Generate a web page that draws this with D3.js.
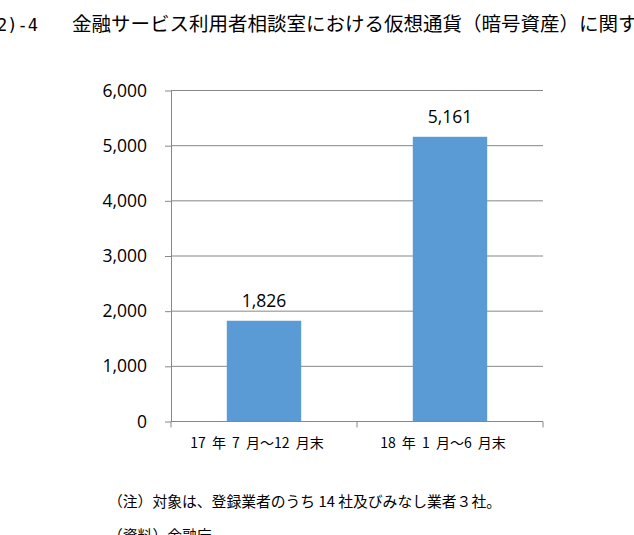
<!DOCTYPE html>
<html>
<head>
<meta charset="utf-8">
<script src="https://cdn.jsdelivr.net/npm/d3@7"></script>
<style>
  body { margin: 0; background: #fff; }
  svg { display: block; }
</style>
</head>
<body>
<div id="wrapper"></div>
<script>
// data
const categories = ["17 年 7 月～12 月末", "18 年 1 月～6 月末"]
const consultations = [1826, 5161]
const yTicks = [0, 1000, 2000, 3000, 4000, 5000, 6000]

const titlePrefix = "(2)-4"
const titleText = "金融サービス利用者相談室における仮想通貨（暗号資産）に関する相談件数"
const noteText = "（注）対象は、登録業者のうち 14 社及びみなし業者３社。"
const sourceText = "（資料）金融庁"

function drawChart() {
  // dimensions
  let dimensions = {
    width: 634,
    height: 535,
    margin: { top: 90.5, right: 91, bottom: 113.5, left: 171 },
  }
  dimensions.boundedWidth = dimensions.width - dimensions.margin.left - dimensions.margin.right
  dimensions.boundedHeight = dimensions.height - dimensions.margin.top - dimensions.margin.bottom

  const svg = d3.select("#wrapper")
    .append("svg")
      .attr("width", dimensions.width)
      .attr("height", dimensions.height)

  const bounds = svg.append("g")
      .attr("transform", `translate(${dimensions.margin.left}, ${dimensions.margin.top})`)

  // scales
  const xScale = d3.scaleBand()
    .domain(categories)
    .range([0, dimensions.boundedWidth])
    .paddingInner(0.6)
    .paddingOuter(0.3)

  const yScale = d3.scaleLinear()
    .domain([0, 6000])
    .range([dimensions.boundedHeight, 0])

  const gridColor = "#878787"

  // gridlines
  bounds.append("g")
    .selectAll("line")
    .data(yTicks.filter(d => d > 0))
    .join("line")
      .attr("x1", 0)
      .attr("x2", dimensions.boundedWidth)
      .attr("y1", d => yScale(d))
      .attr("y2", d => yScale(d))
      .attr("stroke", gridColor)
      .attr("stroke-width", 1)

  // bars
  bounds.append("g")
    .selectAll("rect")
    .data(consultations)
    .join("rect")
      .attr("x", (d, i) => xScale(categories[i]))
      .attr("y", d => yScale(d))
      .attr("width", xScale.bandwidth())
      .attr("height", d => dimensions.boundedHeight - yScale(d))
      .attr("fill", "#5b9bd5")

  // bar labels
  bounds.append("g")
    .selectAll("text")
    .data(consultations)
    .join("text")
      .attr("x", (d, i) => xScale(categories[i]) + xScale.bandwidth() / 2)
      .attr("y", d => yScale(d) - 14)
      .attr("text-anchor", "middle")
      .style("font-family", "'Open Sans', sans-serif")
      .style("font-size", "17.5px")
      .attr("fill", "#000")
      .text(d3.format(","))

  // y axis
  const yAxisGenerator = d3.axisLeft(yScale)
    .tickValues(yTicks)
    .tickSizeInner(6)
    .tickSizeOuter(0)
    .tickPadding(18)
    .tickFormat(d3.format(","))

  const yAxis = bounds.append("g").call(yAxisGenerator)
  yAxis.select(".domain").attr("stroke", gridColor)
  yAxis.selectAll(".tick line").attr("stroke", gridColor)
  yAxis.selectAll(".tick text")
      .style("font-family", "'Open Sans', sans-serif")
      .style("font-size", "17.5px")
      .attr("fill", "#000")

  // x axis: baseline, ticks at category boundaries, labels centered
  const xAxis = bounds.append("g")
      .attr("transform", `translate(0, ${dimensions.boundedHeight})`)

  xAxis.append("line")
      .attr("x1", 0)
      .attr("x2", dimensions.boundedWidth)
      .attr("stroke", gridColor)

  const half = xScale.step() * xScale.paddingInner() / 2
  const boundaries = categories.map(c => xScale(c) - half)
  boundaries.push(xScale(categories[categories.length - 1]) + xScale.bandwidth() + half)

  xAxis.selectAll(".xtick")
    .data(boundaries)
    .join("line")
      .attr("class", "xtick")
      .attr("x1", d => d)
      .attr("x2", d => d)
      .attr("y1", 0)
      .attr("y2", 6)
      .attr("stroke", gridColor)

  xAxis.selectAll(".xlabel")
    .data(categories)
    .join("text")
      .attr("class", "xlabel")
      .attr("x", d => xScale(d) + xScale.bandwidth() / 2 - 7)
      .attr("y", 26.5)
      .attr("text-anchor", "middle")
      .style("font-family", "'Noto Sans CJK JP', sans-serif")
      .style("font-size", "14px")
      .style("word-spacing", "3px")
      .attr("fill", "#000")
      .text(d => d)

  // title (cut off at both edges, as in the source)
  svg.append("text")
      .attr("x", 38)
      .attr("y", 31)
      .attr("text-anchor", "end")
      .style("font-family", "'DejaVu Sans Mono', monospace")
      .style("font-size", "17px")
      .attr("fill", "#000")
      .text(titlePrefix)

  svg.append("text")
      .attr("x", 72)
      .attr("y", 31)
      .style("font-family", "'Noto Sans CJK JP', sans-serif")
      .style("font-size", "19.5px")
      .attr("fill", "#000")
      .text(titleText)

  // notes
  svg.append("text")
      .attr("x", 108)
      .attr("y", 507)
      .style("font-family", "'Noto Sans CJK JP', sans-serif")
      .style("font-size", "14.8px")
      .attr("fill", "#000")
      .text(noteText)

  svg.append("text")
      .attr("x", 108)
      .attr("y", 541)
      .style("font-family", "'Noto Sans CJK JP', sans-serif")
      .style("font-size", "14.8px")
      .attr("fill", "#000")
      .text(sourceText)
}
drawChart()
</script>
</body>
</html>
